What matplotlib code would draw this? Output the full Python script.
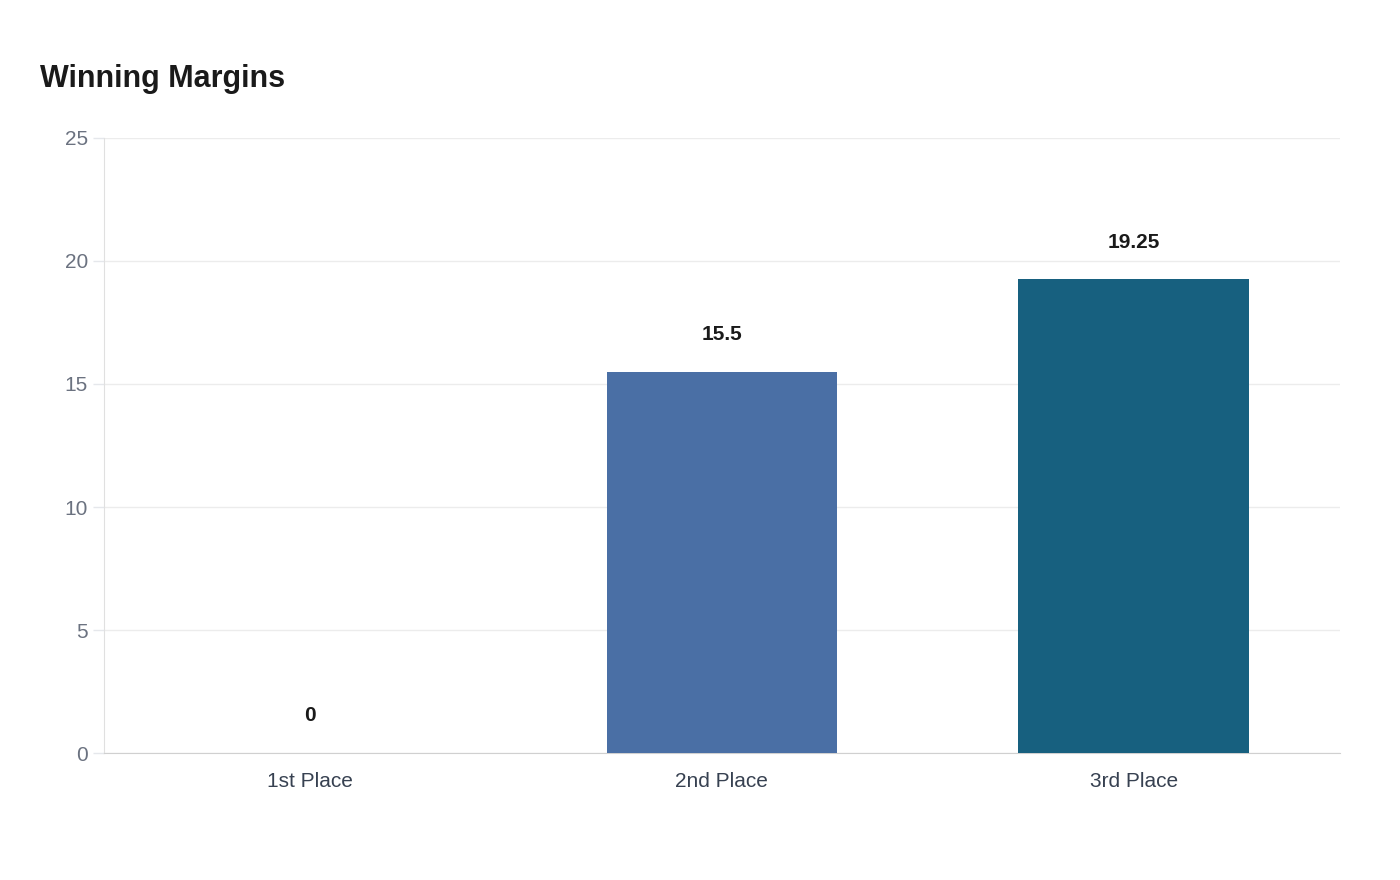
import matplotlib
matplotlib.use("Agg")
import matplotlib.pyplot as plt

categories = ["1st Place", "2nd Place", "3rd Place"]
values = [0, 15.5, 19.25]
labels = ["0", "15.5", "19.25"]
colors = ["#4A6FA5", "#4A6FA5", "#17607F"]
yticks = [0, 5, 10, 15, 20, 25]

plt.rcParams['font.family'] = ['Liberation Sans', 'DejaVu Sans']
fig = plt.figure(figsize=(14, 8.8), dpi=100)
ax = fig.add_axes([0.0743, 0.1443, 0.8827, 0.6989])
x = range(len(categories))
ax.bar(x, values, width=0.56, color=colors, zorder=3)
ax.set_xlim(-0.5, 2.5)
ax.set_ylim(0, 25)
ax.set_yticks(yticks)
ax.set_xticks(list(x))
ax.set_xticklabels(categories, fontsize=15, color="#374151")
ax.tick_params(axis='y', labelsize=15, labelcolor="#6B7280", length=8, color="#E5E7EB", width=1)
ax.tick_params(axis='x', length=0, pad=14)
ax.grid(axis='y', color="#ECECEC", lw=1, zorder=0)
for s in ["top", "right"]:
    ax.spines[s].set_visible(False)
ax.spines["left"].set_color("#E0E0E0")
ax.spines["bottom"].set_color("#D0D0D0")
for i, (v, l) in enumerate(zip(values, labels)):
    ax.annotate(l, (i, v), xytext=(0, 20), textcoords="offset points", ha="center", va="bottom",
                fontsize=15, fontweight="bold", color="#1a1a1a")
fig.text(40/1400, 1-79/880, "Winning Margins", fontsize=22, fontweight="bold", color="#1a1a1a", va="center")
fig.savefig("out.png", dpi=100, facecolor="white")
